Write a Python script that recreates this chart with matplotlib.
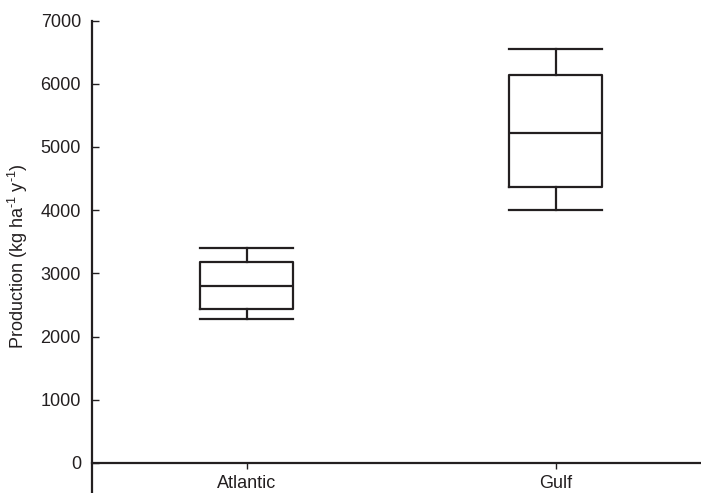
import matplotlib
matplotlib.use("Agg")
import matplotlib.pyplot as plt

plt.rcParams['font.family'] = ['Liberation Sans', 'DejaVu Sans']
plt.rcParams['mathtext.fontset'] = 'custom'
plt.rcParams['mathtext.rm'] = 'Liberation Sans'
plt.rcParams['mathtext.it'] = 'Liberation Sans'

categories = ["Atlantic", "Gulf"]
whisker_low = [2270, 4000]
q1 = [2440, 4360]
median = [2800, 5225]
q3 = [3185, 6135]
whisker_high = [3400, 6550]
yticks = [0, 1000, 2000, 3000, 4000, 5000, 6000, 7000]

color = "#231f20"

fig = plt.figure(figsize=(7.01, 4.93), dpi=100)
ax = fig.add_axes([92 / 701, 0.0, 1 - 92 / 701, (493 - 20.5) / 493])

stats = []
for i, c in enumerate(categories):
    stats.append(dict(label=c, whislo=whisker_low[i], q1=q1[i], med=median[i],
                      q3=q3[i], whishi=whisker_high[i], fliers=[]))

positions = [1, 2]
lw = 1.6
ax.bxp(stats, positions=positions, widths=0.3, showfliers=False,
       boxprops=dict(color=color, linewidth=lw),
       medianprops=dict(color=color, linewidth=lw),
       whiskerprops=dict(color=color, linewidth=lw),
       capprops=dict(color=color, linewidth=lw),
       capwidths=0.3)

ax.set_xlim(0.5, 2.47)
ax.set_ylim(-475, 7000)
ax.set_yticks(yticks)
ax.set_yticklabels([str(v) for v in yticks])
ax.set_xticks(positions)
ax.set_xticklabels(categories)

for s in ['top', 'right']:
    ax.spines[s].set_visible(False)
ax.spines['bottom'].set_position(('data', 0))
ax.spines['left'].set_bounds(-475, 7000)
for s in ['left', 'bottom']:
    ax.spines[s].set_color(color)
    ax.spines[s].set_linewidth(1.6)

ax.tick_params(axis='y', direction='in', length=5, width=1, colors=color,
               labelsize=13, pad=8, labelcolor=color)
ax.tick_params(axis='x', direction='out', length=4, width=1, colors=color,
               labelsize=13, pad=5, labelcolor=color)

ax.set_ylabel("Production (kg ha$^{\\text{-1}}$ y$^{\\text{-1}}$)",
              fontsize=13, color=color)
ax.yaxis.set_label_coords(-62 / 609, (493 - 256) / 472.5)

fig.savefig("out.png", dpi=100)
